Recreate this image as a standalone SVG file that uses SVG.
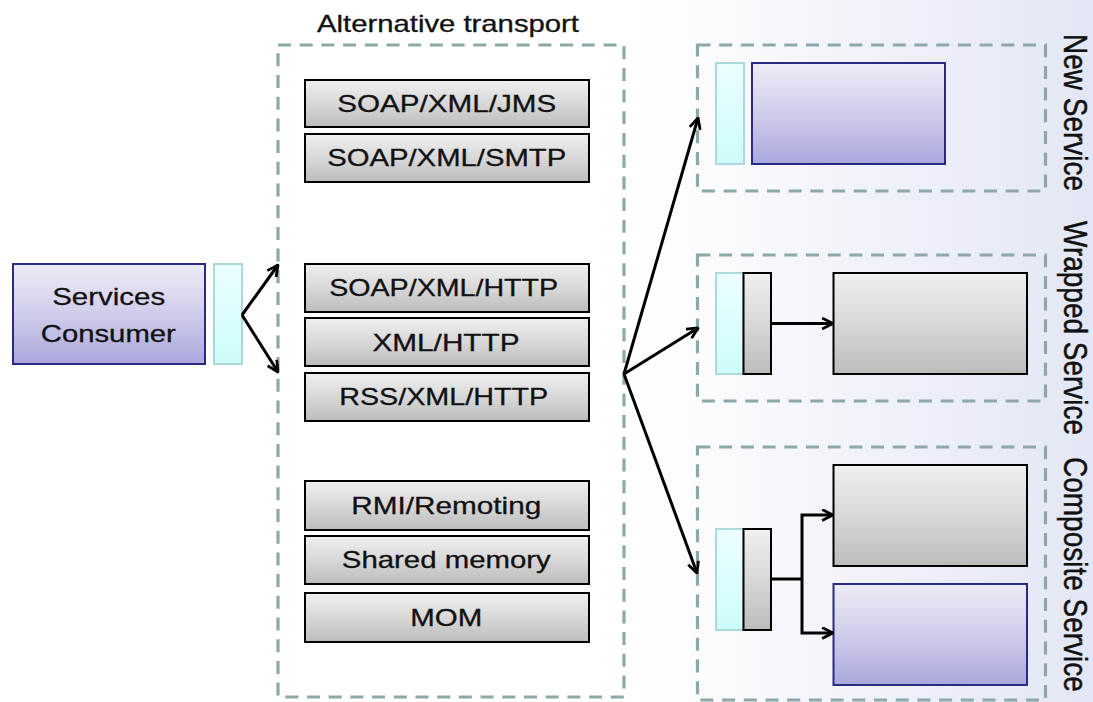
<svg xmlns="http://www.w3.org/2000/svg" width="1093" height="702" viewBox="0 0 1093 702">
  <defs>
    <linearGradient id="bg" x1="0" y1="0" x2="1" y2="0">
      <stop offset="0" stop-color="#ffffff"/>
      <stop offset="0.58" stop-color="#ffffff"/>
      <stop offset="1" stop-color="#e3e7f5"/>
    </linearGradient>
    <linearGradient id="gPurple" x1="0" y1="0" x2="0" y2="1">
      <stop offset="0" stop-color="#eeecf7"/>
      <stop offset="0.5" stop-color="#d0cdeb"/>
      <stop offset="1" stop-color="#a9a7dc"/>
    </linearGradient>
    <linearGradient id="gCyan" x1="0" y1="0" x2="0" y2="1">
      <stop offset="0" stop-color="#ecffff"/>
      <stop offset="1" stop-color="#cdfbfb"/>
    </linearGradient>
    <linearGradient id="gGray" x1="0" y1="0" x2="0" y2="1">
      <stop offset="0" stop-color="#f0f0f0"/>
      <stop offset="0.5" stop-color="#d8d8d8"/>
      <stop offset="1" stop-color="#bcbcbc"/>
    </linearGradient>
    <marker id="arrow" viewBox="0 0 12 12" refX="11" refY="6" markerWidth="13" markerHeight="13" markerUnits="userSpaceOnUse" orient="auto">
      <path d="M1,1 L11,6 L1,11" fill="none" stroke="#000" stroke-width="2.6"/>
    </marker>
    <style>
      .lbl { font-family: "Liberation Sans", Arial, sans-serif; font-size: 24px; fill: #111; stroke: #111; stroke-width: 0.3; text-anchor: middle; }
      .vlbl { font-family: "Liberation Sans", Arial, sans-serif; font-size: 28px; fill: #111; stroke: #111; stroke-width: 0.4; }
      .dash { fill: none; stroke: #8da8a9; stroke-width: 3.2; stroke-dasharray: 13 8.7; }
      .purple { fill: url(#gPurple); stroke: #2a2a86; stroke-width: 2; }
      .cyan { fill: url(#gCyan); stroke: #aed9da; stroke-width: 2; }
      .gray { fill: url(#gGray); stroke: #000; stroke-width: 2; }
      .conn { fill: none; stroke: #000; stroke-width: 3; }
    </style>
  </defs>

  <rect x="0" y="0" width="1093" height="702" fill="url(#bg)"/>

  <!-- consumer -->
  <g id="services-consumer">
    <rect class="purple" x="13" y="264" width="192" height="100"/>
    <text class="lbl" x="108.7" y="305" textLength="113" lengthAdjust="spacingAndGlyphs">Services</text>
    <text class="lbl" x="108.3" y="341.7" textLength="135" lengthAdjust="spacingAndGlyphs">Consumer</text>
  </g>
  <g id="consumer-endpoint">
    <rect class="cyan" x="214" y="264" width="28" height="100"/>
  </g>

  <!-- transport options -->
  <g id="alternative-transport">
    <rect class="dash" x="278" y="45" width="346" height="652"/>
    <text class="lbl" x="448" y="32" textLength="262" lengthAdjust="spacingAndGlyphs">Alternative transport</text>
  </g>
  <g id="soap-jms">
    <rect class="gray" x="305" y="80" width="284" height="47"/>
    <text class="lbl" x="446.7" y="112" textLength="219" lengthAdjust="spacingAndGlyphs">SOAP/XML/JMS</text>
  </g>
  <g id="soap-smtp">
    <rect class="gray" x="305" y="134" width="284" height="48"/>
    <text class="lbl" x="446.7" y="166" textLength="239" lengthAdjust="spacingAndGlyphs">SOAP/XML/SMTP</text>
  </g>
  <g id="soap-http">
    <rect class="gray" x="305" y="264" width="284" height="48"/>
    <text class="lbl" x="443.7" y="296" textLength="229" lengthAdjust="spacingAndGlyphs">SOAP/XML/HTTP</text>
  </g>
  <g id="xml-http">
    <rect class="gray" x="305" y="318" width="284" height="48"/>
    <text class="lbl" x="446" y="350.5" textLength="147" lengthAdjust="spacingAndGlyphs">XML/HTTP</text>
  </g>
  <g id="rss-http">
    <rect class="gray" x="305" y="373" width="284" height="48"/>
    <text class="lbl" x="443.7" y="404.5" textLength="209" lengthAdjust="spacingAndGlyphs">RSS/XML/HTTP</text>
  </g>
  <g id="rmi-remoting">
    <rect class="gray" x="305" y="481" width="284" height="49"/>
    <text class="lbl" x="446.3" y="514" textLength="190" lengthAdjust="spacingAndGlyphs">RMI/Remoting</text>
  </g>
  <g id="shared-memory">
    <rect class="gray" x="305" y="536" width="284" height="48"/>
    <text class="lbl" x="446.3" y="568" textLength="209" lengthAdjust="spacingAndGlyphs">Shared memory</text>
  </g>
  <g id="mom">
    <rect class="gray" x="305" y="593" width="284" height="49"/>
    <text class="lbl" x="446.2" y="625.5" textLength="72" lengthAdjust="spacingAndGlyphs">MOM</text>
  </g>

  <!-- new service -->
  <g id="new-service">
    <rect class="dash" x="697.5" y="45" width="348" height="146"/>
    <rect class="cyan" x="716" y="63" width="28" height="101"/>
    <rect class="purple" x="752" y="63" width="193" height="101"/>
    <text class="vlbl" transform="translate(1064,34) scale(1.2,1) rotate(90)">New Service</text>
  </g>

  <!-- wrapped service -->
  <g id="wrapped-service">
    <rect class="dash" x="697.5" y="255" width="348" height="146"/>
    <rect class="cyan" x="716" y="273" width="27.5" height="101"/>
    <rect class="gray" x="743.5" y="273" width="27.5" height="101"/>
    <rect class="gray" x="833.5" y="273" width="193.5" height="101"/>
    <text class="vlbl" transform="translate(1064,221) scale(1.2,1) rotate(90)">Wrapped Service</text>
  </g>

  <!-- composite service -->
  <g id="composite-service">
    <rect class="dash" x="697.5" y="447" width="348" height="253"/>
    <rect class="cyan" x="716" y="529" width="27.5" height="101"/>
    <rect class="gray" x="743.5" y="529" width="27.5" height="101"/>
    <rect class="gray" x="833.5" y="465" width="193.5" height="101"/>
    <rect class="purple" x="833.5" y="584" width="193.5" height="101"/>
    <text class="vlbl" transform="translate(1064,457) scale(1.2,1) rotate(90)">Composite Service</text>
  </g>

  <!-- connectors -->
  <g id="connectors">
    <line class="conn" x1="242" y1="315" x2="278" y2="265" marker-end="url(#arrow)"/>
    <line class="conn" x1="242" y1="315" x2="278" y2="372" marker-end="url(#arrow)"/>
    <line class="conn" x1="624" y1="374" x2="698" y2="118" marker-end="url(#arrow)"/>
    <line class="conn" x1="624" y1="374" x2="698" y2="328" marker-end="url(#arrow)"/>
    <line class="conn" x1="624" y1="374" x2="697" y2="573" marker-end="url(#arrow)"/>
    <line class="conn" x1="771" y1="323.5" x2="833" y2="323.5" marker-end="url(#arrow)"/>
    <line class="conn" x1="771" y1="579" x2="802" y2="579"/>
    <polyline class="conn" points="802,579 802,515 833,515" marker-end="url(#arrow)"/>
    <polyline class="conn" points="802,579 802,633 833,633" marker-end="url(#arrow)"/>
  </g>
</svg>
